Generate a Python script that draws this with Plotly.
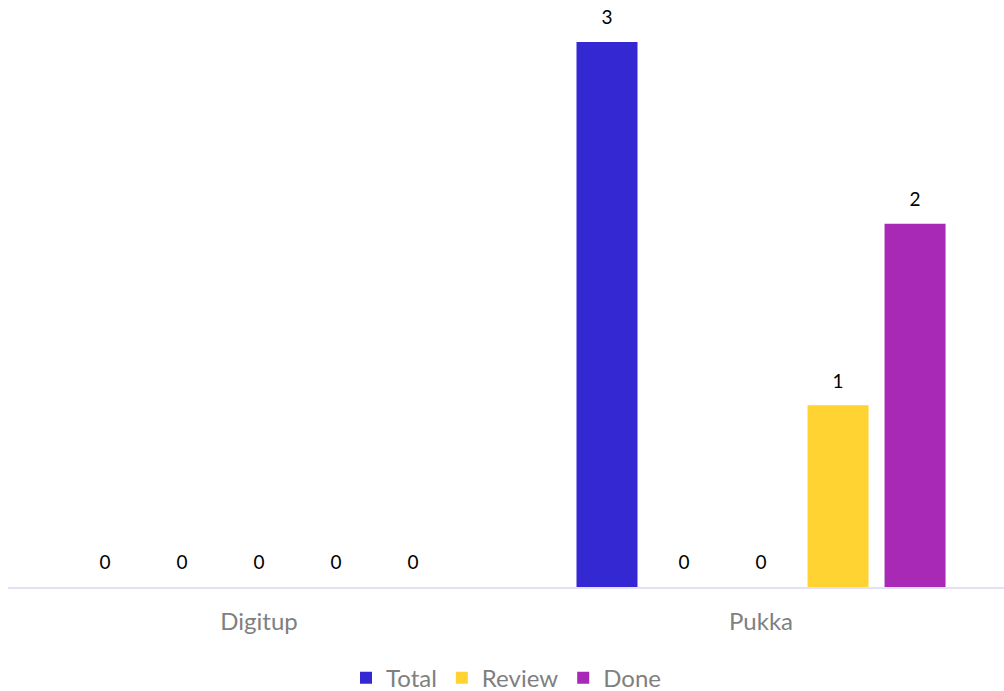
import plotly.graph_objects as go

# Project names along the x axis
projects = ["Digitup", "Pukka"]

# Task counts per status for each project
total = [0, 3]
open_tasks = [0, 0]
in_progress = [0, 0]
review = [0, 1]
done = [0, 2]

series = [
    ("Total", total, "#3328D1", True),
    ("Open", open_tasks, "#4a7fd6", False),
    ("In Progress", in_progress, "#e8853a", False),
    ("Review", review, "#FFD332", True),
    ("Done", done, "#A829B5", True),
]

FONT = "Lato, 'Open Sans', sans-serif"
GAP = 0.233

fig = go.Figure()

# Bars
for name, vals, color, in_legend in series:
    fig.add_trace(go.Bar(
        x=projects, y=vals, name=name,
        marker=dict(color=color, line=dict(width=0)),
        showlegend=in_legend, hoverinfo="skip",
    ))

# Value labels, grouped the same way as the bars
for name, vals, color, in_legend in series:
    fig.add_trace(go.Scatter(
        x=projects, y=vals, mode="markers+text",
        text=[str(v) for v in vals], textposition="top center",
        textfont=dict(family=FONT, size=19, color="#000000"),
        marker=dict(size=19, opacity=0),
        showlegend=False, hoverinfo="skip", cliponaxis=False,
    ))

fig.update_layout(
    width=1004, height=691,
    margin=dict(l=8, r=0, t=10, b=104, autoexpand=False),
    paper_bgcolor="white", plot_bgcolor="white",
    barmode="group", bargap=GAP, bargroupgap=0.208,
    scattermode="group", scattergap=GAP,
    font=dict(family=FONT),
    xaxis=dict(
        range=[-0.5, 1.484], showgrid=False, zeroline=False,
        showline=True, linecolor="#e4e1f7", linewidth=2,
        ticks="", tickfont=dict(size=24, color="#7f7f7f"),
        ticklabelstandoff=12, automargin=False,
    ),
    yaxis=dict(
        range=[0, 3.176], visible=False, showgrid=False, zeroline=False,
    ),
    legend=dict(
        orientation="h", x=0.5, xanchor="center", y=-0.158, yanchor="middle",
        font=dict(size=24, color="#7f7f7f"), itemwidth=30,
        traceorder="normal",
    ),
)

fig.write_html("out.html")
